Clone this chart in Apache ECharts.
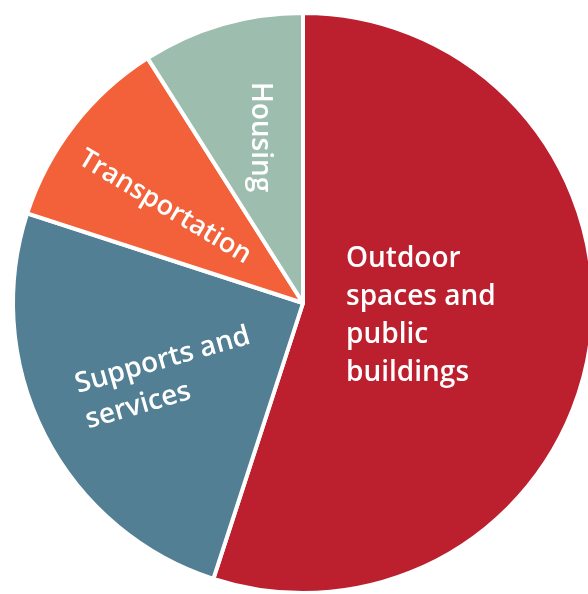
<!DOCTYPE html>
<html>
<head>
<meta charset="utf-8">
<script src="https://cdn.jsdelivr.net/npm/echarts@6/dist/echarts.min.js"></script>
<style>
  html, body { margin: 0; padding: 0; background: #fff; }
  #chart { width: 588px; height: 594px; }
</style>
</head>
<body>
<div id="chart"></div>
<script>
// categories and shares (%), clockwise from 12 o'clock
const categories = ['Outdoor\nspaces and\npublic\nbuildings', 'Supports and\nservices', 'Transportation', 'Housing']
const shares = [55, 25, 11, 9]
const colors = ['#bc202e', '#527f94', '#f26139', '#9dbdaf']

// hand placement of the slice labels: [x, y, rotate, align]
const labelSpots = [
  [346, 316, 0, 'left'],
  [81, 403, 16, 'left'],
  [165, 207, -31, 'center'],
  [260, 137, -90, 'center']
]

const chart = echarts.init(document.getElementById('chart'))

chart.setOption({
  animation: false,
  series: [{
    type: 'pie',
    center: [303, 303],
    radius: 290,
    startAngle: 90,
    clockwise: true,
    itemStyle: { borderColor: '#fff', borderWidth: 4 },
    label: {
      position: 'inside',
      color: '#fff',
      fontFamily: 'Open Sans',
      fontWeight: 600,
      fontSize: 27,
      lineHeight: 37
    },
    labelLine: { show: false },
    labelLayout: (params) => {
      const s = labelSpots[params.dataIndex]
      return { x: s[0], y: s[1], rotate: s[2], align: s[3], verticalAlign: 'middle' }
    },
    data: categories.map((name, i) => ({
      name,
      value: shares[i],
      itemStyle: { color: colors[i] },
      label: [{ fontSize: 28, lineHeight: 38 }, { fontSize: 28 }, {}, { fontSize: 28 }][i]
    }))
  }]
})
</script>
</body>
</html>
